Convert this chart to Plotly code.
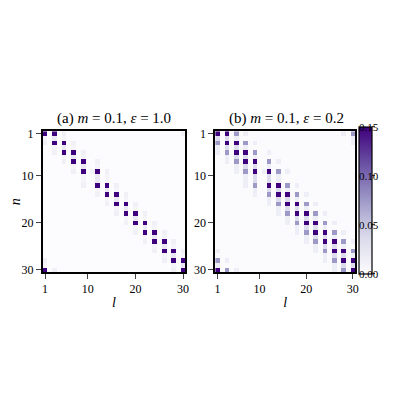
import plotly.graph_objects as go

N = 30
# 1-indexed rows/cols where the dark checker squares sit
dark_idx = [1, 3, 5, 7, 9, 12, 14, 16, 18, 20, 22, 24, 26, 28, 30]
# value by ring offset (col ring index - row ring index) on dark rows
band_a = {0: 0.16, 1: 0.16, -1: 0.012, 2: 0.012}
band_b = {0: 0.16, 1: 0.16, -1: 0.075, 2: 0.075, -2: 0.015, 3: 0.015}
# values on in-between rows at dark cols, by offset from previous dark row
mid_a = {1: 0.02, 0: 0.008, 2: 0.008}
mid_b = {0: 0.035, 1: 0.035, -1: 0.015, 2: 0.015}
bg_a, bg_b = 0.0005, 0.001
between_col_a, between_col_b = 0.01, 0.015
cbar_vals = [0, 0.05, 0.10, 0.15]
cbar_text = ["0.00", "0.05", "0.10", "0.15"]

def build(band, mid, bg, betw):
    z = [[bg] * N for _ in range(N)]
    K = len(dark_idx)
    for k, r in enumerate(dark_idx):
        for off, v in band.items():
            c = dark_idx[(k + off) % K]
            z[r - 1][c - 1] = v
        for c in range(dark_idx[k], dark_idx[(k + 1) % K] if k < K - 1 else N):
            if c not in dark_idx and c - 1 < N:
                z[r - 1][c] = max(z[r - 1][c], betw)
    for k in range(K - 1):
        for r in range(dark_idx[k] + 1, dark_idx[k + 1]):
            for off, v in mid.items():
                c = dark_idx[(k + off) % K]
                z[r - 1][c - 1] = max(z[r - 1][c - 1], v)
    return z

za = build(band_a, mid_a, bg_a, between_col_a)
zb = build(band_b, mid_b, bg_b, between_col_b)
ticks = [1, 10, 20, 30]
labels = list(range(1, N + 1))

cs = [[0, "#fcfbfd"], [0.25, "#dadaeb"], [0.5, "#9e9ac8"], [0.75, "#6a51a3"], [1, "#3f007d"]]
font = dict(family="Times New Roman, Liberation Serif, DejaVu Serif, serif", size=12, color="black")

cb_bottom, cb_top = 0.33, 0.705

fig = go.Figure()
fig.add_trace(go.Heatmap(z=za, x=labels, y=labels, colorscale=cs, zmin=0, zmax=0.15,
                         showscale=False, xaxis="x", yaxis="y"))
fig.add_trace(go.Heatmap(z=zb, x=labels, y=labels, colorscale=cs, zmin=0, zmax=0.15,
                         xaxis="x2", yaxis="y2",
                         colorbar=dict(x=0.935, xanchor="left", xpad=0, ypad=0,
                                       y=cb_bottom, yanchor="bottom", len=cb_top - cb_bottom,
                                       thickness=13, tickvals=cbar_vals, ticktext=[""] * 4,
                                       ticks="outside", ticklen=3, outlinecolor="black",
                                       outlinewidth=1.2, tickfont=dict(font, size=2))))
ax = dict(tickvals=ticks, ticks="outside", ticklen=5, showline=True, linecolor="black",
          linewidth=1.5, mirror=True, showgrid=False, zeroline=False, tickfont=font)
annotations = [
    dict(text="(a) <i>m</i> = 0.1, <i>ε</i> = 1.0", x=0.277, y=0.7, xref="paper", yref="paper",
         xanchor="center", yanchor="bottom", showarrow=False, font=dict(font, size=15)),
    dict(text="(b) <i>m</i> = 0.1, <i>ε</i> = 0.2", x=0.741, y=0.7, xref="paper", yref="paper",
         xanchor="center", yanchor="bottom", showarrow=False, font=dict(font, size=15)),
]
for v, t in zip(cbar_vals, cbar_text):
    annotations.append(dict(text=t, x=1.0, xshift=-2, xref="paper", xanchor="right",
                            y=cb_bottom + (cb_top - cb_bottom) * v / 0.15, yref="paper",
                            yanchor="middle", showarrow=False, font=dict(font, size=11)))
fig.update_layout(
    width=400, height=400, plot_bgcolor="white", paper_bgcolor="white",
    margin=dict(l=0, r=25, t=0, b=0), font=font, annotations=annotations,
    xaxis=dict(**ax, domain=[0.085, 0.469], range=[0.5, 30.5], anchor="y",
               title=dict(text="<i>l</i>", standoff=2)),
    yaxis=dict(**ax, domain=[0.335, 0.695], range=[30.5, 0.5], anchor="x",
               title=dict(text="<i>n</i>", standoff=4)),
    xaxis2=dict(**ax, domain=[0.549, 0.925], range=[0.5, 30.5], anchor="y2",
                title=dict(text="<i>l</i>", standoff=2)),
    yaxis2=dict(**ax, domain=[0.335, 0.695], range=[30.5, 0.5], anchor="x2"),
)
fig.write_html("out.html")
